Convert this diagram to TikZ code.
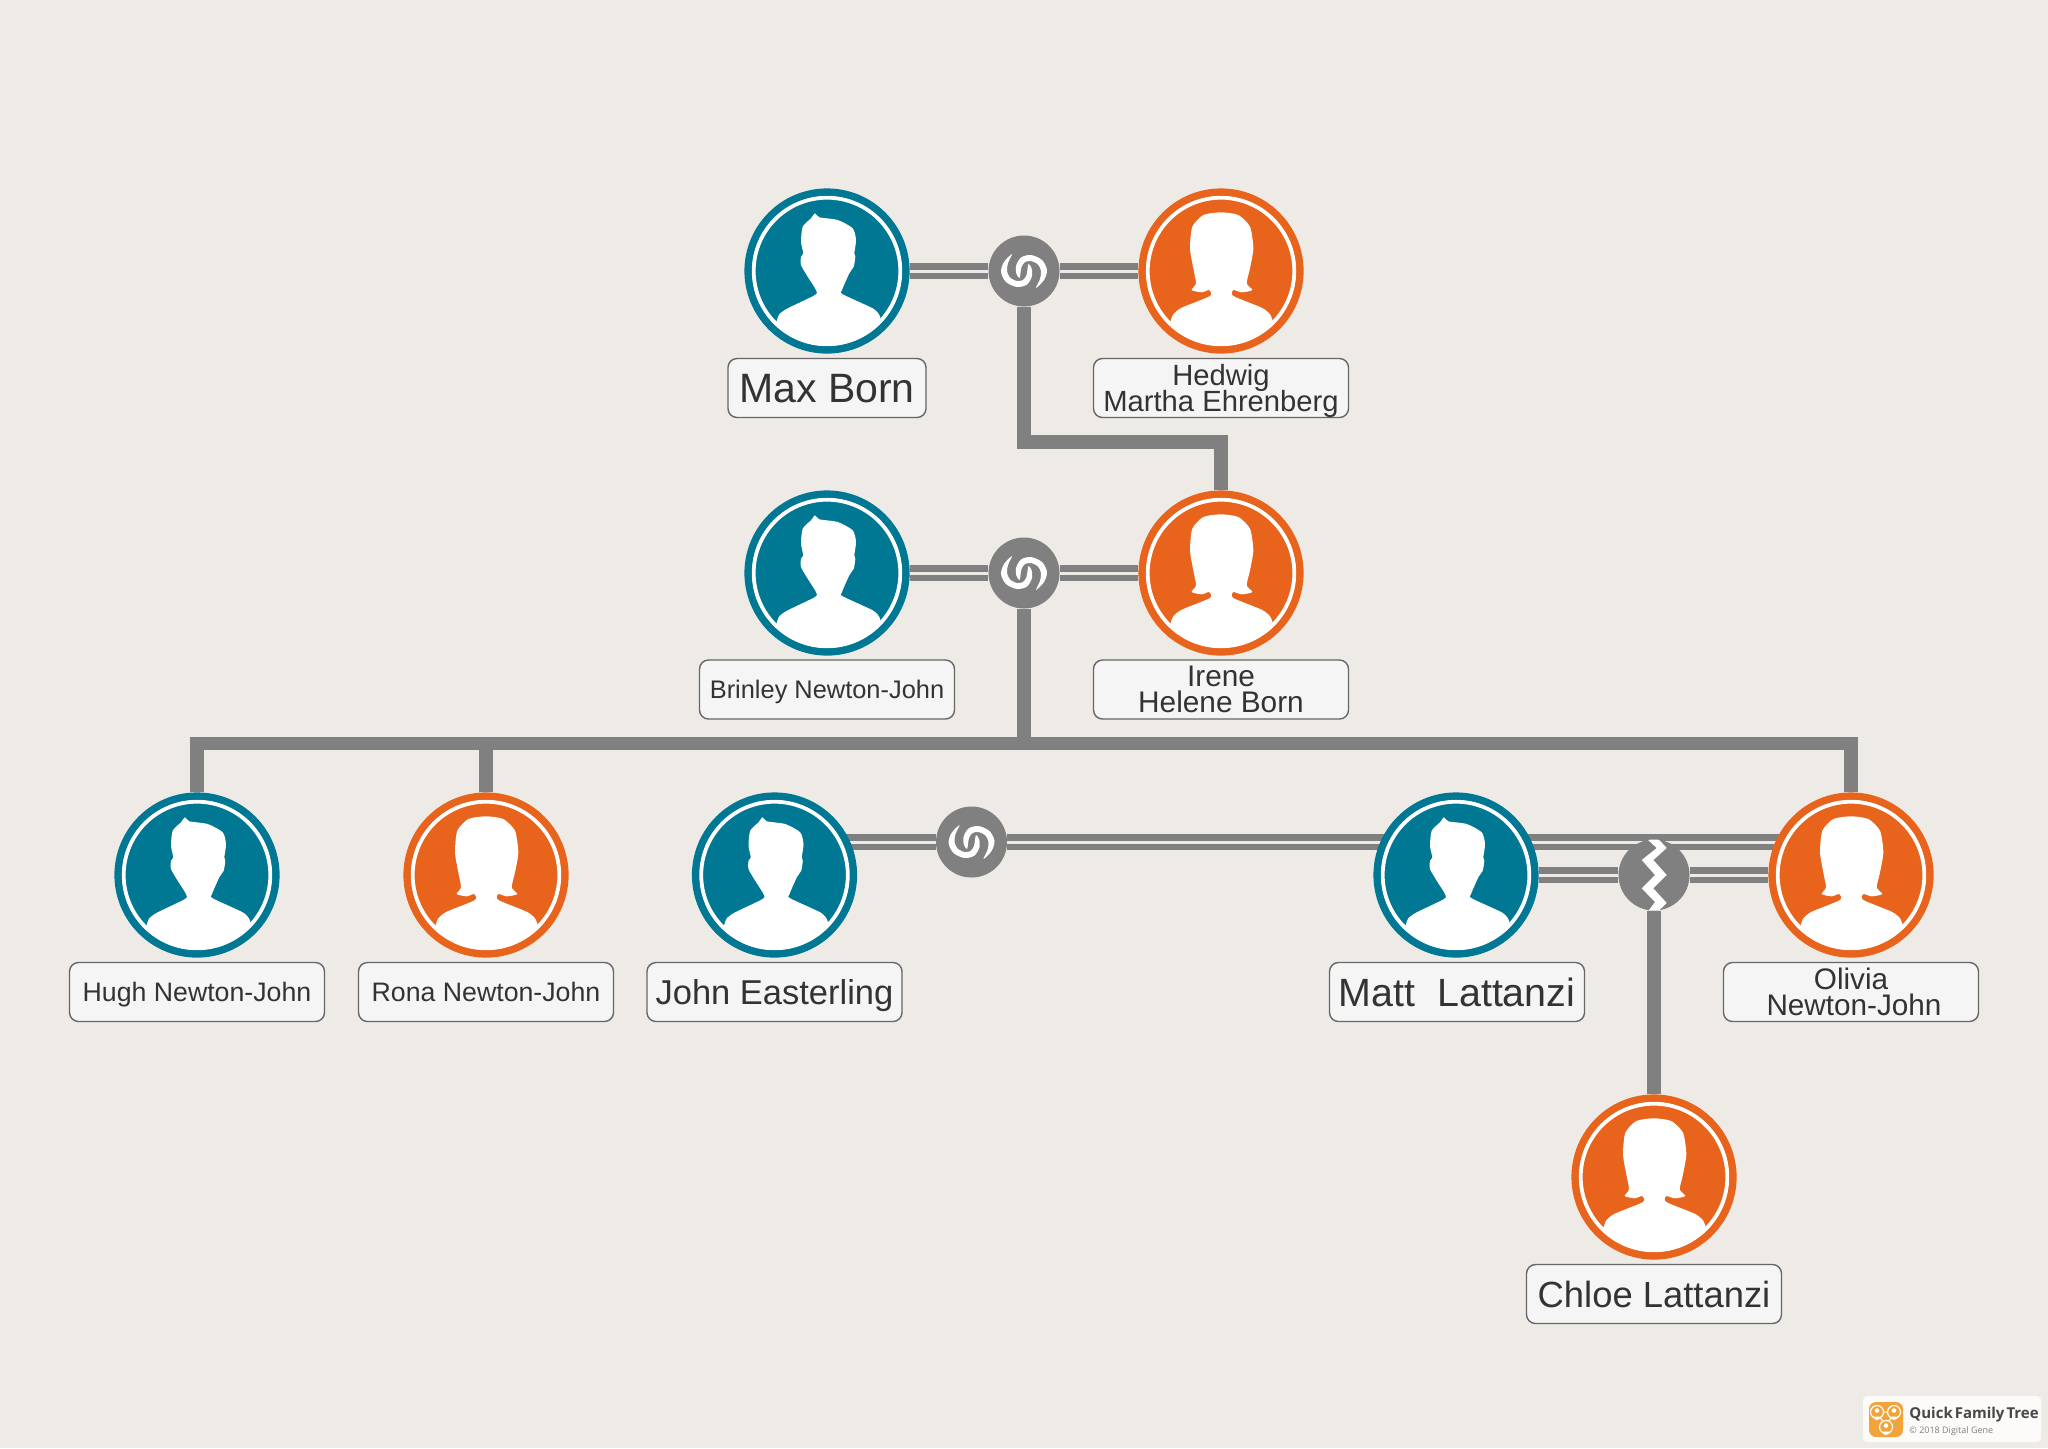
\documentclass[tikz,border=0pt]{standalone}
\usepackage{fontspec}
\setmainfont{Liberation Sans}
\newfontfamily\logofont{Open Sans}
\usetikzlibrary{backgrounds}

\definecolor{paper}{HTML}{EEEBE6}
\definecolor{manblue}{HTML}{007894}
\definecolor{womanorange}{HTML}{E8641C}
\definecolor{linkgrey}{HTML}{808080}
\definecolor{namefill}{HTML}{F5F5F5}
\definecolor{nameline}{HTML}{666666}
\definecolor{nametext}{HTML}{333333}
\definecolor{logoorange}{HTML}{F2A339}

\newcommand{\namefont}[1]{\fontsize{#1}{12.85}\selectfont\lineskiplimit=-20pt\relax}
\newcommand{\manicon}{%
	\begin{scope}
		\clip (0,0) circle (73.3);
		\fill[white] plot[smooth, tension=.4] coordinates {(-50.3,50) (-47.7,43.3) (-39.3,37.3) (-12,24) (-11,19) (-19.3,5.7) (-26,-6) (-26,-14.3) (-23.7,-17.7) (-26,-29.3) (-24.3,-44.3) (-16,-52.7) (-12,-57.7) (-7.7,-53.7) (10.7,-51) (25.7,-42.7) (29,-31) (27.3,-17.7) (28.3,-14.3) (26.7,-4.3) (22.3,2.3) (15,19) (15.7,23.3) (45.7,37.3) (52.3,44) (54,50)} -- (54,90) -- (-50.3,90) -- cycle;
	\end{scope}
	\draw[white, line width=1.9pt] (0,0) circle (73.3);
}
\newcommand{\womanicon}{%
	\begin{scope}
		\clip (0,0) circle (73.3);
		\fill[white] plot[smooth, tension=.4] coordinates {(-50.3,50) (-47.7,43.3) (-39.3,36.7) (-11,25) (-12,19) (-19.3,21.3) (-29.3,19) (-25,12.3) (-27.7,-2.7) (-31,-22.7) (-28.7,-44.3) (-17.7,-56) (0,-58.7) (17.3,-56) (29,-44.3) (32.3,-22.7) (29,-2.7) (25.7,12.3) (31.3,19) (20.7,21.3) (12.3,19) (12.3,25) (40.7,36.7) (49,43.3) (51.7,50)} -- (51.7,90) -- (-50.3,90) -- cycle;
	\end{scope}
	\draw[white, line width=1.9pt] (0,0) circle (73.3);
}
\newcommand{\swirlicon}{%
	\fill[white] plot[smooth cycle, tension=.5] coordinates {(-12,-17) (-20,-9) (-23,1) (-18,11) (-7,16) (3,13.5) (8,5) (7.5,-3) (4.5,-7) (3.5,-2) (2.5,4) (-1,9) (-7,10) (-14,6.5) (-17,0) (-16,-8)};
	\fill[white] plot[smooth cycle, tension=.5] coordinates {(12,17) (20,9) (23,-1) (18,-11) (7,-16) (-3,-13.5) (-8,-5) (-7.5,3) (-4.5,7) (-3.5,2) (-2.5,-4) (1,-9) (7,-10) (14,-6.5) (17,0) (16,8)};
}
\newcommand{\breakicon}{%
	\fill[white] (-7,-36) -- (2.7,-27) -- (-12.3,-15) -- (1,0) -- (-12.3,13.3) -- (1,27) -- (-5.7,36) -- (4.3,36) -- (12.7,28) -- (-0.7,13.3) -- (12.7,0) -- (-0.7,-15) -- (12.7,-27) -- (4.3,-36) -- cycle;
}

\tikzset{
	person/.style={circle, inner sep=0pt, minimum size=79.2pt, line width=3.4pt, draw=#1, fill=#1},
	man/.style={person=manblue, path picture={\begin{scope}[shift={(path picture bounding box.center)}]\manicon\end{scope}}},
	woman/.style={person=womanorange, path picture={\begin{scope}[shift={(path picture bounding box.center)}]\womanicon\end{scope}}},
	hub/.style={circle, inner sep=0pt, minimum size=35.5pt, fill=linkgrey},
	union/.style={hub, path picture={\begin{scope}[shift={(path picture bounding box.center)}]\swirlicon\end{scope}}},
	split/.style={hub, path picture={\begin{scope}[shift={(path picture bounding box.center)}]\breakicon\end{scope}}},
	namebox/.style={draw=nameline, line width=.7pt, fill=namefill, rounded corners=4.5pt, inner sep=0pt, minimum width=127.5pt, minimum height=29.5pt, align=center, text=nametext, font=\namefont{#1}},
	oneline/.style 2 args={namebox=#1, text height=#2pt, text depth=0pt},
	treeline/.style={linkgrey, line width=6.85pt},
	coupleline/.style={linkgrey, line width=3.3pt, double=paper, double distance=1.5pt}
}

\begin{document}
\begin{tikzpicture}[x=.5pt, y=-.5pt]
	\useasboundingbox (0,0) rectangle (2048,1448);

	% people
	\node[man] (max) at (827,271) {};
	\node[woman] (hedwig) at (1221,271) {};
	\node[man] (brinley) at (827,573) {};
	\node[woman] (irene) at (1221,573) {};
	\node[man] (hugh) at (197,875) {};
	\node[woman] (rona) at (486,875) {};
	\node[man] (john) at (774.5,875) {};
	\node[man] (matt) at (1456,875) {};
	\node[woman] (olivia) at (1851,875) {};
	\node[woman] (chloe) at (1654,1177) {};

	% names
	\node[oneline={20.5}{14.7}, minimum width=99pt] (maxname) at (827,388) {Max Born};
	\node[namebox=14.6] (hedwigname) at (1221,388) {Hedwi\smash{g}\\Martha Ehrenber\smash{g}};
	\node[oneline={12.7}{9.1}] (brinleyname) at (827,689.5) {Brinley Newton-John};
	\node[namebox=14.9] (irenename) at (1221,689.5) {Irene\\Helene Born};
	\node[oneline={13.35}{9.55}] (hughname) at (197,992) {Hugh Newton-John};
	\node[oneline={13.35}{9.55}] (ronaname) at (486,992) {Rona Newton-John};
	\node[oneline={17.25}{12.35}] (johnname) at (774.5,992) {John Easterling};
	\node[oneline={19.7}{14.1}] (mattname) at (1457,992) {Matt\ \ Lattanzi};
	\node[namebox=14.85] (olivianame) at (1851,992) {Olivia\\\kern3pt Newton-John};
	\node[oneline={18.2}{13}] (chloename) at (1654,1294) {Chloe Lattanzi};

	% couples
	\node[union] (maxhedwig) at (1024,271) {};
	\node[union] (brinleyirene) at (1024,573) {};
	\node[union] (johnolivia) at (971.5,842) {};
	\node[split] (mattolivia) at (1654,875) {};

	\coordinate (irenebar) at (1024,442);
	\coordinate (kidsbar) at (1024,743.5);

	\begin{pgfonlayer}{background}
		\fill[paper] (0,0) rectangle (2048,1448);
		\draw[coupleline] (max) -- (maxhedwig);
		\draw[coupleline] (maxhedwig) -- (hedwig);
		\draw[coupleline] (brinley) -- (brinleyirene);
		\draw[coupleline] (brinleyirene) -- (irene);
		\draw[coupleline] (john |- johnolivia) -- (johnolivia);
		\draw[coupleline] (johnolivia) -- (olivia |- johnolivia);
		\draw[coupleline] (matt) -- (mattolivia);
		\draw[coupleline] (mattolivia) -- (olivia);
		\draw[treeline] (maxhedwig) -- (irenebar) -| (irene);
		\draw[treeline] (brinleyirene) -- (kidsbar);
		\draw[treeline] (hugh) |- (kidsbar) -| (olivia);
		\draw[treeline] (rona) -- (rona |- kidsbar);
		\draw[treeline] (mattolivia) -- (chloe);
	\end{pgfonlayer}

	% logo
	\fill[white!70!paper!60!white, rounded corners=2pt] (1863,1396) rectangle (2041,1442);
	\fill[logoorange, rounded corners=3.5pt] (1869,1402) rectangle (1903,1437);
	\draw[white, line width=.6pt] (1877,1412) -- (1894,1412) -- (1886,1427) -- cycle;
	\foreach \px/\py in {1877/1412, 1894/1412, 1886/1427}{
		\fill[logoorange] (\px,\py) circle (6.5);
		\draw[white, line width=.6pt] (\px,\py) circle (6.5);
		\fill[white] (\px,\py-1.5) circle (2.3);
		\fill[white] (\px-3.5,\py+4.5) arc (180:360:3.5 and -3.5) -- cycle;
	}
	\node[anchor=base west, inner sep=0pt, text=nametext!90!white, font=\logofont\bfseries\fontsize{7.5}{7.5}\selectfont] (logotitle) at (1909,1418) {\spaceskip=1pt Quick Family Tree};
	\node[anchor=base west, inner sep=0pt, text=gray, font=\logofont\fontsize{4.5}{4.5}\selectfont] (logocopy) at (1909,1433) {© 2018 Digital Gene};
\end{tikzpicture}
\end{document}
